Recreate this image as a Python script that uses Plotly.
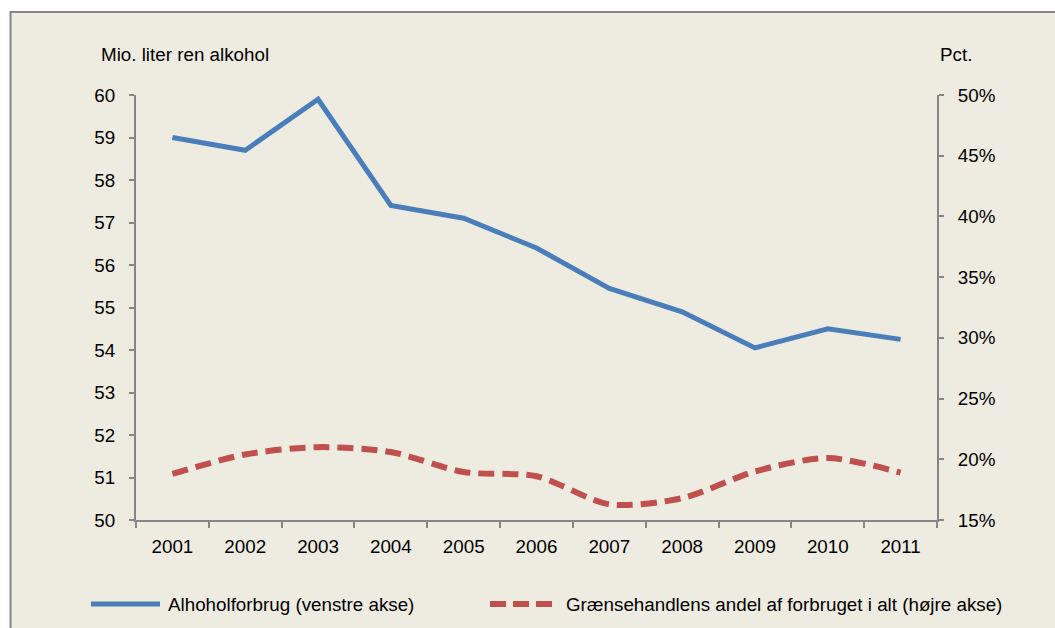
import plotly.graph_objects as go

years = ["2001", "2002", "2003", "2004", "2005", "2006", "2007", "2008", "2009", "2010", "2011"]
alkohol = [59.0, 58.7, 59.9, 57.4, 57.1, 56.4, 55.45, 54.9, 54.05, 54.5, 54.25]
graense_pct = [18.8, 20.4, 21.0, 20.6, 18.95, 18.6, 16.3, 16.8, 19.0, 20.1, 18.9]
left_ticks = list(range(50, 61))
right_ticks = list(range(15, 51, 5))
right_labels = [f"{v}%" for v in right_ticks]

name_a = "Alhoholforbrug (venstre akse)"
name_b = "Grænsehandlens andel af forbruget i alt (højre akse)"

BG = "#EEECE1"
BLUE = "#4A7EBB"
RED = "#C0504D"
AX = "#868686"
FONT = "Liberation Sans, Arial, sans-serif"
FS = 18.8

W, H = 1055, 628
L, T = 136, 95
R = W - 937
B = H - 520
pw, ph = W - L - R, H - T - B

def px(x):
    return (x - L) / pw

def py(y):
    return (H - B - y) / ph

fig = go.Figure()
fig.add_trace(go.Scatter(x=years, y=alkohol, name=name_a, mode="lines",
                         line=dict(color=BLUE, width=5), showlegend=False))
fig.add_trace(go.Scatter(x=years, y=graense_pct, name=name_b, mode="lines", yaxis="y2",
                         line=dict(color=RED, width=6, dash="16px,8px", shape="spline", smoothing=0.8),
                         showlegend=False))

shapes = [
    dict(type="rect", xref="paper", yref="paper", x0=px(10.5), x1=1.5, y0=-0.5, y1=py(12),
         fillcolor=BG, line=dict(color=AX, width=2), layer="below"),
    dict(type="line", xref="paper", yref="paper", x0=px(91), x1=px(160), y0=py(604), y1=py(604),
         line=dict(color=BLUE, width=5)),
    dict(type="line", xref="paper", yref="paper", x0=px(490), x1=px(553), y0=py(604), y1=py(604),
         line=dict(color=RED, width=6, dash="16px,7px")),
]

tf = dict(size=FS, color="#000", family=FONT)
annotations = [
    dict(text="Mio. liter ren alkohol", xref="paper", yref="paper", x=px(99), y=py(54),
         xanchor="left", yanchor="middle", showarrow=False, font=tf),
    dict(text="Pct.", xref="paper", yref="paper", x=px(938), y=py(54),
         xanchor="left", yanchor="middle", showarrow=False, font=tf),
    dict(text=name_a, xref="paper", yref="paper", x=px(166), y=py(604),
         xanchor="left", yanchor="middle", showarrow=False, font=tf),
    dict(text=name_b, xref="paper", yref="paper", x=px(564), y=py(604),
         xanchor="left", yanchor="middle", showarrow=False, font=tf),
]

fig.update_layout(
    width=W, height=H,
    margin=dict(l=L, r=R, t=T, b=B, pad=0),
    paper_bgcolor="white", plot_bgcolor=BG,
    font=dict(family=FONT, size=FS, color="#000"),
    shapes=shapes, annotations=annotations,
    xaxis=dict(type="category", range=[-0.5, 10.5], showgrid=False, zeroline=False,
               showline=True, linecolor=AX, linewidth=2, ticks="outside", ticklen=6,
               tickcolor=AX, tickwidth=2, tickson="boundaries", ticklabelstandoff=8),
    yaxis=dict(range=[50, 60], tickvals=left_ticks, showgrid=False, zeroline=False,
               showline=True, linecolor=AX, linewidth=2, ticks="outside", ticklen=5,
               tickcolor=AX, tickwidth=2, ticklabelstandoff=10),
    yaxis2=dict(range=[15, 50], tickvals=right_ticks, ticktext=right_labels, overlaying="y", side="right",
                showgrid=False, zeroline=False, showline=True, linecolor=AX, linewidth=2,
                ticks="outside", ticklen=5, tickcolor=AX, tickwidth=2, ticklabelstandoff=10),
)

fig.write_html(
    "out.html",
    config={"displayModeBar": False},
    post_script="document.body.style.margin='0';document.body.style.overflow='hidden';"
                "document.documentElement.style.overflow='hidden';",
)
